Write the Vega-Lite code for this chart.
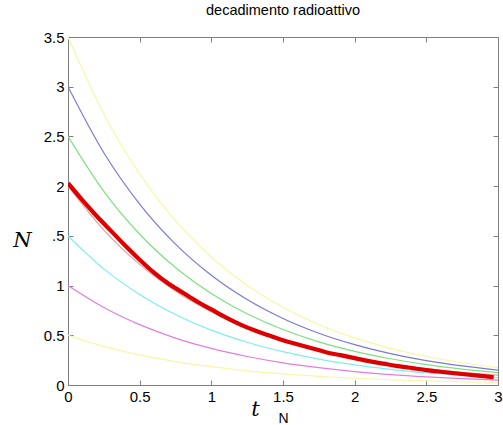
{
  "$schema": "https://vega.github.io/schema/vega-lite/v6.json",
  "width": 430,
  "height": 348,
  "autosize": {"type": "none"},
  "padding": {"left": 68, "top": 37, "right": 5, "bottom": 40},
  "background": "white",
  "title": {"text": "decadimento radioattivo", "font": "Liberation Sans", "fontSize": 14.5, "fontWeight": "normal", "color": "black", "offset": 12, "anchor": "middle"},
  "config": {
    "view": {"stroke": null},
    "axis": {"grid": false, "domainColor": "#7f7f7f", "tickColor": "#7f7f7f", "tickSize": -5, "labelPadding": 9, "labelFont": "Liberation Sans", "labelFontSize": 15, "labelColor": "black", "titleColor": "black", "labelFlush": false, "labelOverlap": false}
  },
  "datasets": {
    "curves": [
      {"series": "3.5", "t": 0, "N": 3.5}, {"series": "3.5", "t": 0.25, "N": 2.726}, {"series": "3.5", "t": 0.5, "N": 2.123}, {"series": "3.5", "t": 0.75, "N": 1.653}, {"series": "3.5", "t": 1, "N": 1.288}, {"series": "3.5", "t": 1.25, "N": 1.003}, {"series": "3.5", "t": 1.5, "N": 0.781}, {"series": "3.5", "t": 1.75, "N": 0.608}, {"series": "3.5", "t": 2, "N": 0.474}, {"series": "3.5", "t": 2.25, "N": 0.369}, {"series": "3.5", "t": 2.5, "N": 0.287}, {"series": "3.5", "t": 2.75, "N": 0.224}, {"series": "3.5", "t": 3, "N": 0.174},
      {"series": "3", "t": 0, "N": 3}, {"series": "3", "t": 0.25, "N": 2.336}, {"series": "3", "t": 0.5, "N": 1.82}, {"series": "3", "t": 0.75, "N": 1.417}, {"series": "3", "t": 1, "N": 1.104}, {"series": "3", "t": 1.25, "N": 0.86}, {"series": "3", "t": 1.5, "N": 0.669}, {"series": "3", "t": 1.75, "N": 0.521}, {"series": "3", "t": 2, "N": 0.406}, {"series": "3", "t": 2.25, "N": 0.316}, {"series": "3", "t": 2.5, "N": 0.246}, {"series": "3", "t": 2.75, "N": 0.192}, {"series": "3", "t": 3, "N": 0.149},
      {"series": "2.5", "t": 0, "N": 2.5}, {"series": "2.5", "t": 0.25, "N": 1.947}, {"series": "2.5", "t": 0.5, "N": 1.516}, {"series": "2.5", "t": 0.75, "N": 1.181}, {"series": "2.5", "t": 1, "N": 0.92}, {"series": "2.5", "t": 1.25, "N": 0.716}, {"series": "2.5", "t": 1.5, "N": 0.558}, {"series": "2.5", "t": 1.75, "N": 0.434}, {"series": "2.5", "t": 2, "N": 0.338}, {"series": "2.5", "t": 2.25, "N": 0.264}, {"series": "2.5", "t": 2.5, "N": 0.205}, {"series": "2.5", "t": 2.75, "N": 0.16}, {"series": "2.5", "t": 3, "N": 0.125},
      {"series": "2", "t": 0, "N": 2}, {"series": "2", "t": 0.25, "N": 1.558}, {"series": "2", "t": 0.5, "N": 1.213}, {"series": "2", "t": 0.75, "N": 0.945}, {"series": "2", "t": 1, "N": 0.736}, {"series": "2", "t": 1.25, "N": 0.573}, {"series": "2", "t": 1.5, "N": 0.446}, {"series": "2", "t": 1.75, "N": 0.348}, {"series": "2", "t": 2, "N": 0.271}, {"series": "2", "t": 2.25, "N": 0.211}, {"series": "2", "t": 2.5, "N": 0.164}, {"series": "2", "t": 2.75, "N": 0.128}, {"series": "2", "t": 3, "N": 0.1},
      {"series": "1.5", "t": 0, "N": 1.5}, {"series": "1.5", "t": 0.25, "N": 1.168}, {"series": "1.5", "t": 0.5, "N": 0.91}, {"series": "1.5", "t": 0.75, "N": 0.709}, {"series": "1.5", "t": 1, "N": 0.552}, {"series": "1.5", "t": 1.25, "N": 0.43}, {"series": "1.5", "t": 1.5, "N": 0.335}, {"series": "1.5", "t": 1.75, "N": 0.261}, {"series": "1.5", "t": 2, "N": 0.203}, {"series": "1.5", "t": 2.25, "N": 0.158}, {"series": "1.5", "t": 2.5, "N": 0.123}, {"series": "1.5", "t": 2.75, "N": 0.096}, {"series": "1.5", "t": 3, "N": 0.075},
      {"series": "1", "t": 0, "N": 1}, {"series": "1", "t": 0.25, "N": 0.779}, {"series": "1", "t": 0.5, "N": 0.607}, {"series": "1", "t": 0.75, "N": 0.472}, {"series": "1", "t": 1, "N": 0.368}, {"series": "1", "t": 1.25, "N": 0.287}, {"series": "1", "t": 1.5, "N": 0.223}, {"series": "1", "t": 1.75, "N": 0.174}, {"series": "1", "t": 2, "N": 0.135}, {"series": "1", "t": 2.25, "N": 0.105}, {"series": "1", "t": 2.5, "N": 0.082}, {"series": "1", "t": 2.75, "N": 0.064}, {"series": "1", "t": 3, "N": 0.05},
      {"series": "0.5", "t": 0, "N": 0.5}, {"series": "0.5", "t": 0.25, "N": 0.389}, {"series": "0.5", "t": 0.5, "N": 0.303}, {"series": "0.5", "t": 0.75, "N": 0.236}, {"series": "0.5", "t": 1, "N": 0.184}, {"series": "0.5", "t": 1.25, "N": 0.143}, {"series": "0.5", "t": 1.5, "N": 0.112}, {"series": "0.5", "t": 1.75, "N": 0.087}, {"series": "0.5", "t": 2, "N": 0.068}, {"series": "0.5", "t": 2.25, "N": 0.053}, {"series": "0.5", "t": 2.5, "N": 0.041}, {"series": "0.5", "t": 2.75, "N": 0.032}, {"series": "0.5", "t": 3, "N": 0.025}
    ],
    "red": [
      {"t": 0, "N": 2.03}, {"t": 0.1, "N": 1.86}, {"t": 0.2, "N": 1.7}, {"t": 0.3, "N": 1.55}, {"t": 0.4, "N": 1.4}, {"t": 0.5, "N": 1.26}, {"t": 0.6, "N": 1.13}, {"t": 0.7, "N": 1.02}, {"t": 0.8, "N": 0.93}, {"t": 0.9, "N": 0.84}, {"t": 1.0, "N": 0.76}, {"t": 1.1, "N": 0.68}, {"t": 1.2, "N": 0.61}, {"t": 1.3, "N": 0.55}, {"t": 1.4, "N": 0.5}, {"t": 1.5, "N": 0.45}, {"t": 1.6, "N": 0.41}, {"t": 1.7, "N": 0.37}, {"t": 1.8, "N": 0.33}, {"t": 1.9, "N": 0.3}, {"t": 2.0, "N": 0.27}, {"t": 2.1, "N": 0.24}, {"t": 2.2, "N": 0.215}, {"t": 2.3, "N": 0.19}, {"t": 2.4, "N": 0.17}, {"t": 2.5, "N": 0.15}, {"t": 2.6, "N": 0.133}, {"t": 2.7, "N": 0.118}, {"t": 2.8, "N": 0.103}, {"t": 2.9, "N": 0.09}, {"t": 2.97, "N": 0.078}
    ]
  },
  "layer": [
    {
      "layer": [
        {
          "data": {"name": "curves"},
          "mark": {"type": "line", "strokeWidth": 1.2, "interpolate": "monotone", "clip": true},
          "encoding": {
            "x": {"field": "t", "type": "quantitative", "scale": {"domain": [0, 3], "nice": false},
              "axis": {"values": [0, 0.5, 1, 1.5, 2, 2.5, 3], "format": "~g", "title": "t", "titleFont": "DejaVu Serif", "titleFontStyle": "italic", "titleFontWeight": "normal", "titleFontSize": 21, "titleX": 187, "titleY": 24, "titleBaseline": "middle", "titleAlign": "center"}},
            "y": {"field": "N", "type": "quantitative", "scale": {"domain": [0, 3.5], "nice": false},
              "axis": {"values": [0, 0.5, 1, 1.5, 2, 2.5, 3, 3.5], "labelExpr": "datum.value == 1.5 ? '.5' : format(datum.value, '~g')", "title": "N", "titleAngle": 0, "titleFont": "DejaVu Serif", "titleFontStyle": "italic", "titleFontWeight": "normal", "titleFontSize": 21, "titleX": -46, "titleY": 203, "titleBaseline": "middle", "titleAlign": "center"}},
            "detail": {"field": "series"},
            "color": {"field": "series", "type": "nominal", "legend": null,
              "scale": {"domain": ["3.5", "3", "2.5", "2", "1.5", "1", "0.5"], "range": ["#f7f7a6", "#7a7ad8", "#7ee07e", "#ee9a9a", "#7eeeee", "#e07ee0", "#f7f7a6"]}}
          }
        },
        {
          "data": {"name": "red"},
          "mark": {"type": "line", "strokeWidth": 4.2, "color": "#dd0000", "interpolate": "monotone", "clip": true},
          "encoding": {
            "x": {"field": "t", "type": "quantitative"},
            "y": {"field": "N", "type": "quantitative"}
          }
        }
      ]
    },
    {
      "data": {"name": "red"},
      "mark": {"type": "line", "opacity": 0},
      "encoding": {
        "x": {"field": "t", "type": "quantitative", "scale": {"domain": [0, 3], "nice": false},
          "axis": {"orient": "top", "values": [0, 0.5, 1, 1.5, 2, 2.5, 3], "labels": false, "title": null}},
        "y": {"field": "N", "type": "quantitative", "scale": {"domain": [0, 3.5], "nice": false},
          "axis": {"orient": "right", "values": [0, 0.5, 1, 1.5, 2, 2.5, 3, 3.5], "labels": false, "title": null}}
      }
    },
    {
      "data": {"name": "red"},
      "mark": {"type": "line", "opacity": 0},
      "encoding": {
        "x": {"field": "t", "type": "quantitative", "scale": {"domain": [0, 3], "nice": false},
          "axis": {"orient": "bottom", "ticks": false, "labels": false, "domain": false, "title": "N", "titleFont": "Liberation Sans", "titleFontWeight": "normal", "titleFontSize": 14, "titleX": 215, "titleY": 26, "titleBaseline": "top", "titleAlign": "center"}},
        "y": {"field": "N", "type": "quantitative", "scale": {"domain": [0, 3.5], "nice": false}, "axis": null}
      }
    }
  ],
  "resolve": {"scale": {"x": "independent", "y": "independent"}, "axis": {"x": "independent", "y": "independent"}}
}
